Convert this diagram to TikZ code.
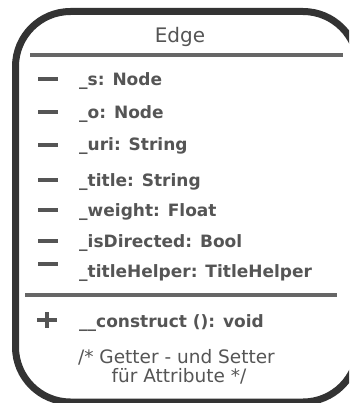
\documentclass[tikz,border=0pt]{standalone}
\usepackage{fontspec}
\setmainfont{DejaVu Sans}
\definecolor{frame}{HTML}{333333}
\definecolor{rule}{HTML}{666666}
\definecolor{ink}{HTML}{555555}
\begin{document}
\begin{tikzpicture}[x=1pt,y=-1pt,
  member/.style={anchor=base west,inner sep=0pt,text=ink,font=\fontsize{17}{20}\selectfont\bfseries},
  title/.style={anchor=base,inner sep=0pt,text=ink,font=\fontsize{20}{24}\selectfont},
  note/.style={anchor=base,inner sep=0pt,text=ink,font=\fontsize{18.5}{22}\selectfont},
  marker/.style={line width=4.4pt,draw=ink},
  divider/.style={line width=4.5pt,draw=rule}]
\fill[white] (0,0) rectangle (350,403);
\useasboundingbox (0,0) rectangle (350,403);
% class frame, its right side runs past the page edge
\begin{scope}
  \clip (0,0) rectangle (349,403);
  \draw[line width=7pt,draw=frame,rounded corners=55pt] (15.5,11.5) rectangle (358,402);
\end{scope}
% name compartment
\node[title] (name) at (180,43) {Edge};
\draw[divider] (30,55) -- (343,55);
% attributes
\node[member] (a1) at (79,86)  {\_s: Node};
\node[member] (a2) at (79,119) {\_o: Node};
\node[member] (a3) at (79,151) {\_uri: String};
\node[member] (a4) at (79,186) {\_title: String};
\node[member] (a5) at (79,216) {\_weight: Float};
\node[member] (a6) at (79,247) {\_isDirected: Bool};
\node[member] (a7) at (79,277) {\_titleHelper: TitleHelper};
\foreach \y in {79,112,145,180,210,241,264}
  \draw[marker] (38,\y) -- (58,\y);
\draw[divider] (25,295) -- (337,295);
% operations
\draw[marker] (37,320) -- (57,320);
\draw[marker] (47,312) -- (47,328);
\node[member] (op) at (79,327) {\_\_construct (): void};
\node[note] (c1) at (176.5,363) {/* Getter - und Setter};
\node[note] (c2) at (179,382) {für Attribute */};
\end{tikzpicture}
\end{document}
